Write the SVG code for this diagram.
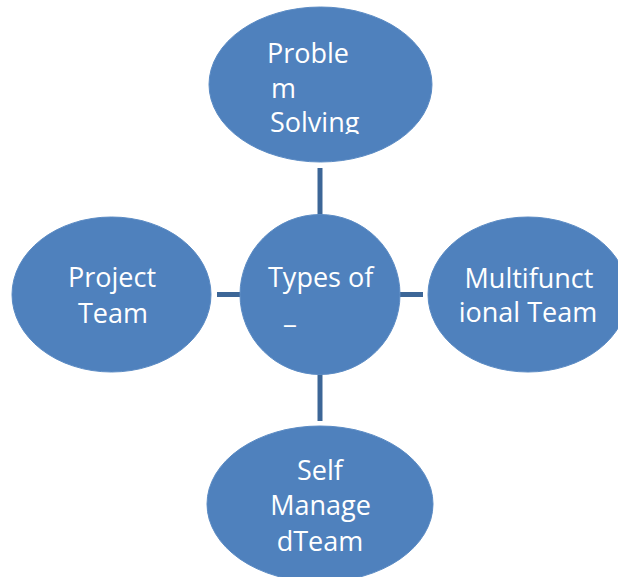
<svg xmlns="http://www.w3.org/2000/svg" width="618" height="577" viewBox="0 0 618 577">
<style>
.node{fill:#4F81BD;stroke:#5B8BC4;stroke-width:1}
.lbl{font-family:"Open Sans","Liberation Sans",sans-serif;font-size:27px;fill:#FFFFFF}
.mid{text-anchor:middle}
.conn{stroke:#3C6697;stroke-width:5;fill:none}
</style>
<defs>
<clipPath id="clipTop"><rect x="200" y="0" width="240" height="134"/></clipPath>
</defs>
<rect width="618" height="577" fill="#FFFFFF"/>
<g id="connectors">
<line class="conn" x1="320" y1="168" x2="320" y2="215"/>
<line class="conn" x1="320" y1="374" x2="320" y2="421"/>
<line class="conn" x1="217" y1="294.5" x2="240" y2="294.5"/>
<line class="conn" x1="400" y1="294.5" x2="423" y2="294.5"/>
</g>
<g id="center">
<circle class="node" cx="320" cy="294.5" r="80"/>
<text class="lbl" x="268" y="287">Types of</text>
<text class="lbl" x="284" y="323">_</text>
</g>
<g id="problem-solving">
<ellipse class="node" cx="320.5" cy="84.5" rx="111.5" ry="77.5"/>
<g clip-path="url(#clipTop)">
<text class="lbl" x="267" y="63">Proble</text>
<text class="lbl" x="271" y="98">m</text>
<text class="lbl" x="270" y="132">Solving</text>
</g>
</g>
<g id="project-team">
<ellipse class="node" cx="111.5" cy="294.5" rx="99.5" ry="77.5"/>
<text class="lbl mid" x="112" y="287">Project</text>
<text class="lbl mid" x="113" y="323">Team</text>
</g>
<g id="multifunctional-team">
<ellipse class="node" cx="528" cy="294.5" rx="100" ry="77.5"/>
<text class="lbl mid" x="529" y="288">Multifunct</text>
<text class="lbl mid" x="528" y="322">ional Team</text>
</g>
<g id="self-managed-team">
<ellipse class="node" cx="320" cy="504" rx="113" ry="78"/>
<text class="lbl mid" x="320" y="480">Self</text>
<text class="lbl mid" x="320.5" y="515">Manage</text>
<text class="lbl mid" x="320" y="551">dTeam</text>
</g>
</svg>
